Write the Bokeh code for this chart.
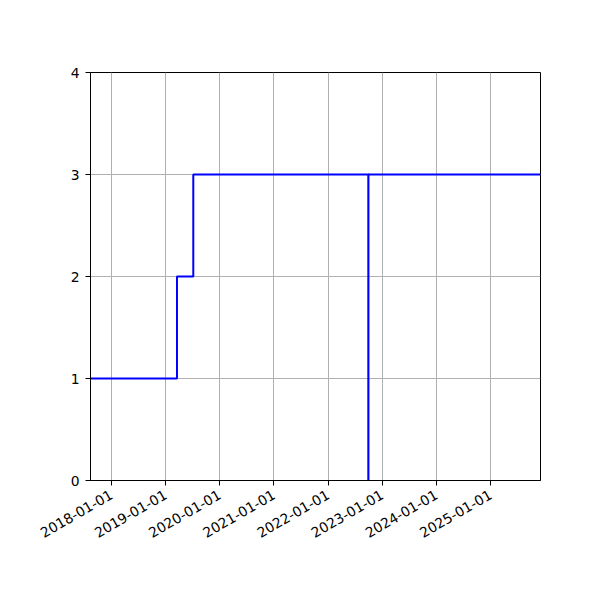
import datetime as dt
from math import pi
from bokeh.plotting import figure
from bokeh.models import FixedTicker, DatetimeTickFormatter, Range1d, ColumnDataSource
from bokeh.embed import file_html
from bokeh.resources import INLINE

# data
dates = ["2017-08-13", "2019-03-19", "2019-07-07", "2022-09-29", "2022-09-30", "2025-12-03"]
values = [1, 2, 3, 0, 3, 3]
tick_years = [2018, 2019, 2020, 2021, 2022, 2023, 2024, 2025]
y_ticks = [0, 1, 2, 3, 4]

x = [dt.datetime.fromisoformat(d) for d in dates]

def ms(d):
    return (d - dt.datetime(1970, 1, 1)).total_seconds() * 1000.0

p = figure(width=584, height=584, x_axis_type="datetime", output_backend="svg",
           toolbar_location=None,
           x_range=Range1d(x[0], x[-1]), y_range=Range1d(0, 4),
           min_border_left=90, min_border_right=44, min_border_top=72, min_border_bottom=104)

src = ColumnDataSource(dict(x=x, y=values))
p.step("x", "y", source=src, mode="after", line_color="#0000ff", line_width=2)

p.xaxis.ticker = FixedTicker(ticks=[ms(dt.datetime(yv, 1, 1)) for yv in tick_years])
fmt = "%Y-%m-%d"
p.xaxis.formatter = DatetimeTickFormatter(years=fmt, months=fmt, days=fmt, hours=fmt,
                                          minutes=fmt, seconds=fmt, milliseconds=fmt,
                                          microseconds=fmt, hourmin=fmt, minsec=fmt)
p.xaxis.major_label_orientation = pi / 6
p.yaxis.ticker = FixedTicker(ticks=y_ticks)

for ax in (p.xaxis[0], p.yaxis[0]):
    ax.axis_line_color = "black"
    ax.axis_line_width = 1
    ax.major_tick_line_color = "black"
    ax.major_tick_out = 5
    ax.major_tick_in = 0
    ax.minor_tick_line_color = None
    ax.major_label_text_font = "DejaVu Sans"
    ax.major_label_text_font_size = "13.9px"
    ax.major_label_text_color = "black"
    ax.major_label_standoff = 6

p.xaxis.major_label_standoff = 8

p.xgrid.grid_line_color = "#b0b0b0"
p.ygrid.grid_line_color = "#b0b0b0"
p.xgrid.grid_line_width = 1
p.ygrid.grid_line_width = 1

p.outline_line_color = "black"
p.outline_line_alpha = 1
p.outline_line_width = 1
p.background_fill_color = "white"
p.border_fill_color = "white"

open("out.html", "w").write(file_html(p, INLINE))
